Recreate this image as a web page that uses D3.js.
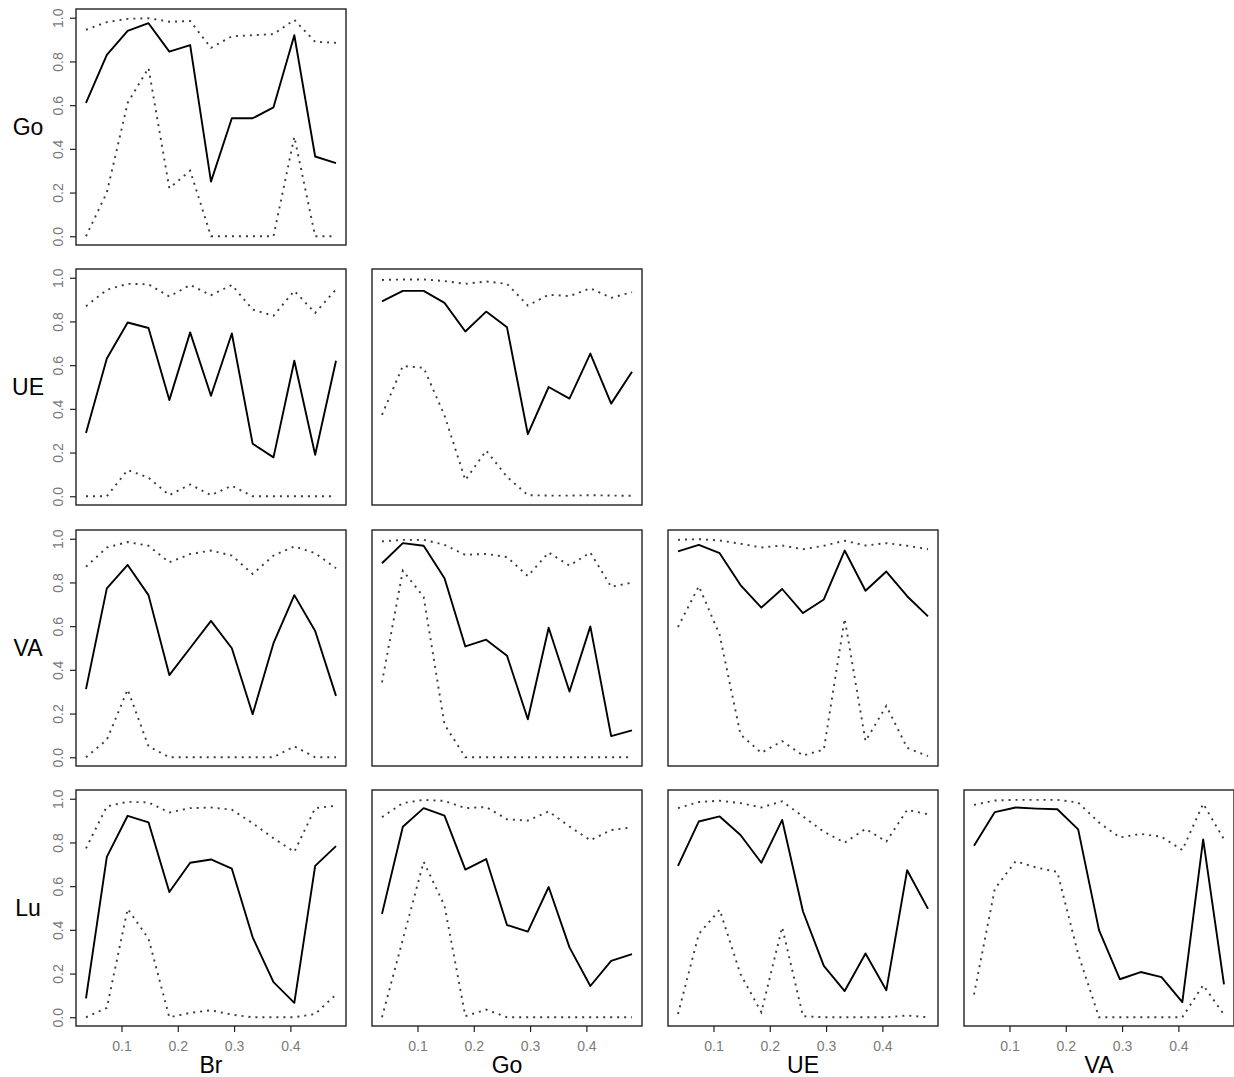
<!DOCTYPE html>
<html>
<head>
<meta charset="utf-8">
<script src="https://cdn.jsdelivr.net/npm/d3@7"></script>
<style>
  html, body { margin: 0; padding: 0; background: #fff; }
  svg { display: block; font-family: "Liberation Sans", Arial, Helvetica, sans-serif; }
</style>
</head>
<body>
<svg id="chart" width="1234" height="1077"></svg>
<script>
// ---- data ----
const rowNames = ["Go", "UE", "VA", "Lu"];
const colNames = ["Br", "Go", "UE", "VA"];
const xValues = [0.037, 0.074, 0.111, 0.148, 0.185, 0.222, 0.259, 0.296, 0.333, 0.370, 0.407, 0.444, 0.481];
const xTicks = [0.1, 0.2, 0.3, 0.4];
const yTicks = [0.0, 0.2, 0.4, 0.6, 0.8, 1.0];

const goBrMid = [0.61, 0.83, 0.94, 0.975, 0.845, 0.875, 0.25, 0.54, 0.54, 0.59, 0.92, 0.365, 0.335];
const goBrHi  = [0.945, 0.98, 0.995, 0.998, 0.982, 0.985, 0.862, 0.915, 0.92, 0.925, 0.99, 0.89, 0.885];
const goBrLo  = [0, 0.2, 0.61, 0.77, 0.22, 0.30, 0, 0, 0, 0, 0.455, 0, 0];

const ueBrMid = [0.29, 0.63, 0.795, 0.77, 0.44, 0.75, 0.46, 0.745, 0.24, 0.178, 0.62, 0.19, 0.62];
const ueBrHi  = [0.87, 0.945, 0.972, 0.97, 0.914, 0.967, 0.92, 0.967, 0.854, 0.826, 0.94, 0.839, 0.946];
const ueBrLo  = [0, 0, 0.12, 0.085, 0.005, 0.054, 0.005, 0.048, 0, 0, 0, 0, 0];

const ueGoMid = [0.892, 0.94, 0.94, 0.885, 0.754, 0.845, 0.773, 0.284, 0.50, 0.447, 0.653, 0.424, 0.57];
const ueGoHi  = [0.99, 0.992, 0.992, 0.985, 0.972, 0.983, 0.972, 0.873, 0.922, 0.916, 0.952, 0.908, 0.934];
const ueGoLo  = [0.373, 0.596, 0.588, 0.37, 0.074, 0.209, 0.089, 0.005, 0.003, 0.003, 0.005, 0.003, 0.002];

const vaBrMid = [0.312, 0.773, 0.88, 0.742, 0.376, 0.5, 0.624, 0.499, 0.197, 0.522, 0.742, 0.578, 0.281];
const vaBrHi  = [0.872, 0.96, 0.985, 0.968, 0.892, 0.93, 0.946, 0.923, 0.839, 0.923, 0.965, 0.934, 0.865];
const vaBrLo  = [0, 0.08, 0.31, 0.05, 0, 0, 0, 0, 0, 0, 0.05, 0, 0];

const vaGoMid = [0.888, 0.98, 0.968, 0.819, 0.507, 0.538, 0.465, 0.174, 0.593, 0.301, 0.599, 0.097, 0.123];
const vaGoHi  = [0.988, 0.995, 0.995, 0.972, 0.926, 0.931, 0.916, 0.829, 0.937, 0.877, 0.937, 0.78, 0.799];
const vaGoLo  = [0.343, 0.854, 0.734, 0.15, 0, 0, 0, 0, 0, 0, 0, 0, 0];

const vaUeMid = [0.942, 0.972, 0.934, 0.788, 0.685, 0.77, 0.66, 0.722, 0.946, 0.762, 0.85, 0.737, 0.645];
const vaUeHi  = [0.995, 0.998, 0.992, 0.977, 0.96, 0.969, 0.952, 0.968, 0.991, 0.969, 0.98, 0.968, 0.952];
const vaUeLo  = [0.596, 0.783, 0.56, 0.104, 0.02, 0.074, 0.008, 0.035, 0.634, 0.074, 0.235, 0.043, 0.005];

const luBrMid = [0.086, 0.734, 0.922, 0.892, 0.573, 0.707, 0.722, 0.68, 0.366, 0.161, 0.066, 0.693, 0.783];
const luBrHi  = [0.773, 0.965, 0.986, 0.983, 0.937, 0.957, 0.96, 0.95, 0.888, 0.819, 0.757, 0.957, 0.968];
const luBrLo  = [0, 0.043, 0.496, 0.36, 0, 0.02, 0.032, 0.012, 0, 0, 0, 0.015, 0.104];

const luGoMid = [0.473, 0.872, 0.957, 0.923, 0.676, 0.724, 0.422, 0.392, 0.596, 0.32, 0.143, 0.258, 0.289];
const luGoHi  = [0.916, 0.98, 0.995, 0.99, 0.957, 0.962, 0.906, 0.9, 0.942, 0.873, 0.81, 0.857, 0.869];
const luGoLo  = [0, 0.356, 0.711, 0.511, 0.005, 0.035, 0, 0, 0, 0, 0, 0, 0];

const luUeMid = [0.693, 0.896, 0.919, 0.834, 0.707, 0.903, 0.484, 0.235, 0.12, 0.292, 0.124, 0.673, 0.496];
const luUeHi  = [0.957, 0.985, 0.991, 0.98, 0.96, 0.988, 0.919, 0.849, 0.799, 0.862, 0.804, 0.949, 0.929];
const luUeLo  = [0.015, 0.381, 0.492, 0.197, 0.023, 0.412, 0.005, 0, 0, 0, 0, 0.008, 0];

const luVaMid = [0.785, 0.939, 0.96, 0.955, 0.952, 0.86, 0.399, 0.174, 0.207, 0.184, 0.069, 0.814, 0.151];
const luVaHi  = [0.972, 0.992, 0.995, 0.995, 0.995, 0.983, 0.891, 0.823, 0.839, 0.826, 0.765, 0.977, 0.814];
const luVaLo  = [0.104, 0.588, 0.714, 0.685, 0.665, 0.289, 0, 0, 0, 0, 0, 0.147, 0.012];

// panel table: [row index, col index, mid, hi, lo]
const panels = [
  [0, 0, goBrMid, goBrHi, goBrLo],
  [1, 0, ueBrMid, ueBrHi, ueBrLo],
  [1, 1, ueGoMid, ueGoHi, ueGoLo],
  [2, 0, vaBrMid, vaBrHi, vaBrLo],
  [2, 1, vaGoMid, vaGoHi, vaGoLo],
  [2, 2, vaUeMid, vaUeHi, vaUeLo],
  [3, 0, luBrMid, luBrHi, luBrLo],
  [3, 1, luGoMid, luGoHi, luGoLo],
  [3, 2, luUeMid, luUeHi, luUeLo],
  [3, 3, luVaMid, luVaHi, luVaLo]
];

// ---- layout ----
const boxW = 270, boxH = 236;
const colLeft = [76, 372, 668, 964];
const rowTop = [9, 269, 530, 790];

const xExt = d3.extent(xValues);
const xPad = (xExt[1] - xExt[0]) * 0.04;
const x = d3.scaleLinear().domain([xExt[0] - xPad, xExt[1] + xPad]).range([0, boxW]);
const y = d3.scaleLinear().domain([-0.04, 1.04]).range([boxH, 0]);

const svg = d3.select("#chart");
const fmt = d3.format(".1f");

const line = d3.line().x((d, i) => x(xValues[i])).y(d => y(d));

panels.forEach(([ri, ci, mid, hi, lo]) => {
  const g = svg.append("g").attr("transform", `translate(${colLeft[ci]},${rowTop[ri]})`);

  [hi, lo].forEach(arr => {
    g.append("path").datum(arr)
      .attr("d", line)
      .attr("fill", "none")
      .attr("stroke", "#3a3a3a")
      .attr("stroke-width", 1.9)
      .attr("stroke-dasharray", "2,5");
  });
  g.append("path").datum(mid)
    .attr("d", line)
    .attr("fill", "none")
    .attr("stroke", "#000")
    .attr("stroke-width", 1.9)
    .attr("stroke-linejoin", "round");

  g.append("rect")
    .attr("x", 0).attr("y", 0).attr("width", boxW).attr("height", boxH)
    .attr("fill", "none").attr("stroke", "#222").attr("stroke-width", 1.4);

  if (ci === 0) {
    const ay = g.append("g").call(d3.axisLeft(y).tickValues(yTicks).tickSize(6).tickFormat(fmt));
    ay.select(".domain").remove();
    ay.selectAll(".tick line").attr("stroke", "#222").attr("stroke-width", 1.2);
    ay.selectAll(".tick text")
      .attr("x", 0).attr("y", -13).attr("dy", null)
      .attr("transform", "rotate(-90)")
      .attr("text-anchor", "middle")
      .attr("fill", "#7a7a7a")
      .style("font-size", "14px")
      .style("font-family", "'Liberation Sans', Arial, sans-serif");
    svg.append("text")
      .attr("x", 28).attr("y", rowTop[ri] + boxH / 2 + 8)
      .attr("text-anchor", "middle")
      .style("font-size", "23px")
      .attr("fill", "#000")
      .text(rowNames[ri]);
  }
  if (ri === 3) {
    const ax = g.append("g").attr("transform", `translate(0,${boxH})`)
      .call(d3.axisBottom(x).tickValues(xTicks).tickSize(6).tickFormat(fmt));
    ax.select(".domain").remove();
    ax.selectAll(".tick line").attr("stroke", "#222").attr("stroke-width", 1.2);
    ax.selectAll(".tick text")
      .attr("y", 15)
      .attr("fill", "#7a7a7a")
      .style("font-size", "14px")
      .style("font-family", "'Liberation Sans', Arial, sans-serif");
    svg.append("text")
      .attr("x", colLeft[ci] + boxW / 2).attr("y", 1073)
      .attr("text-anchor", "middle")
      .style("font-size", "23px")
      .attr("fill", "#000")
      .text(colNames[ci]);
  }
});
</script>
</body>
</html>
